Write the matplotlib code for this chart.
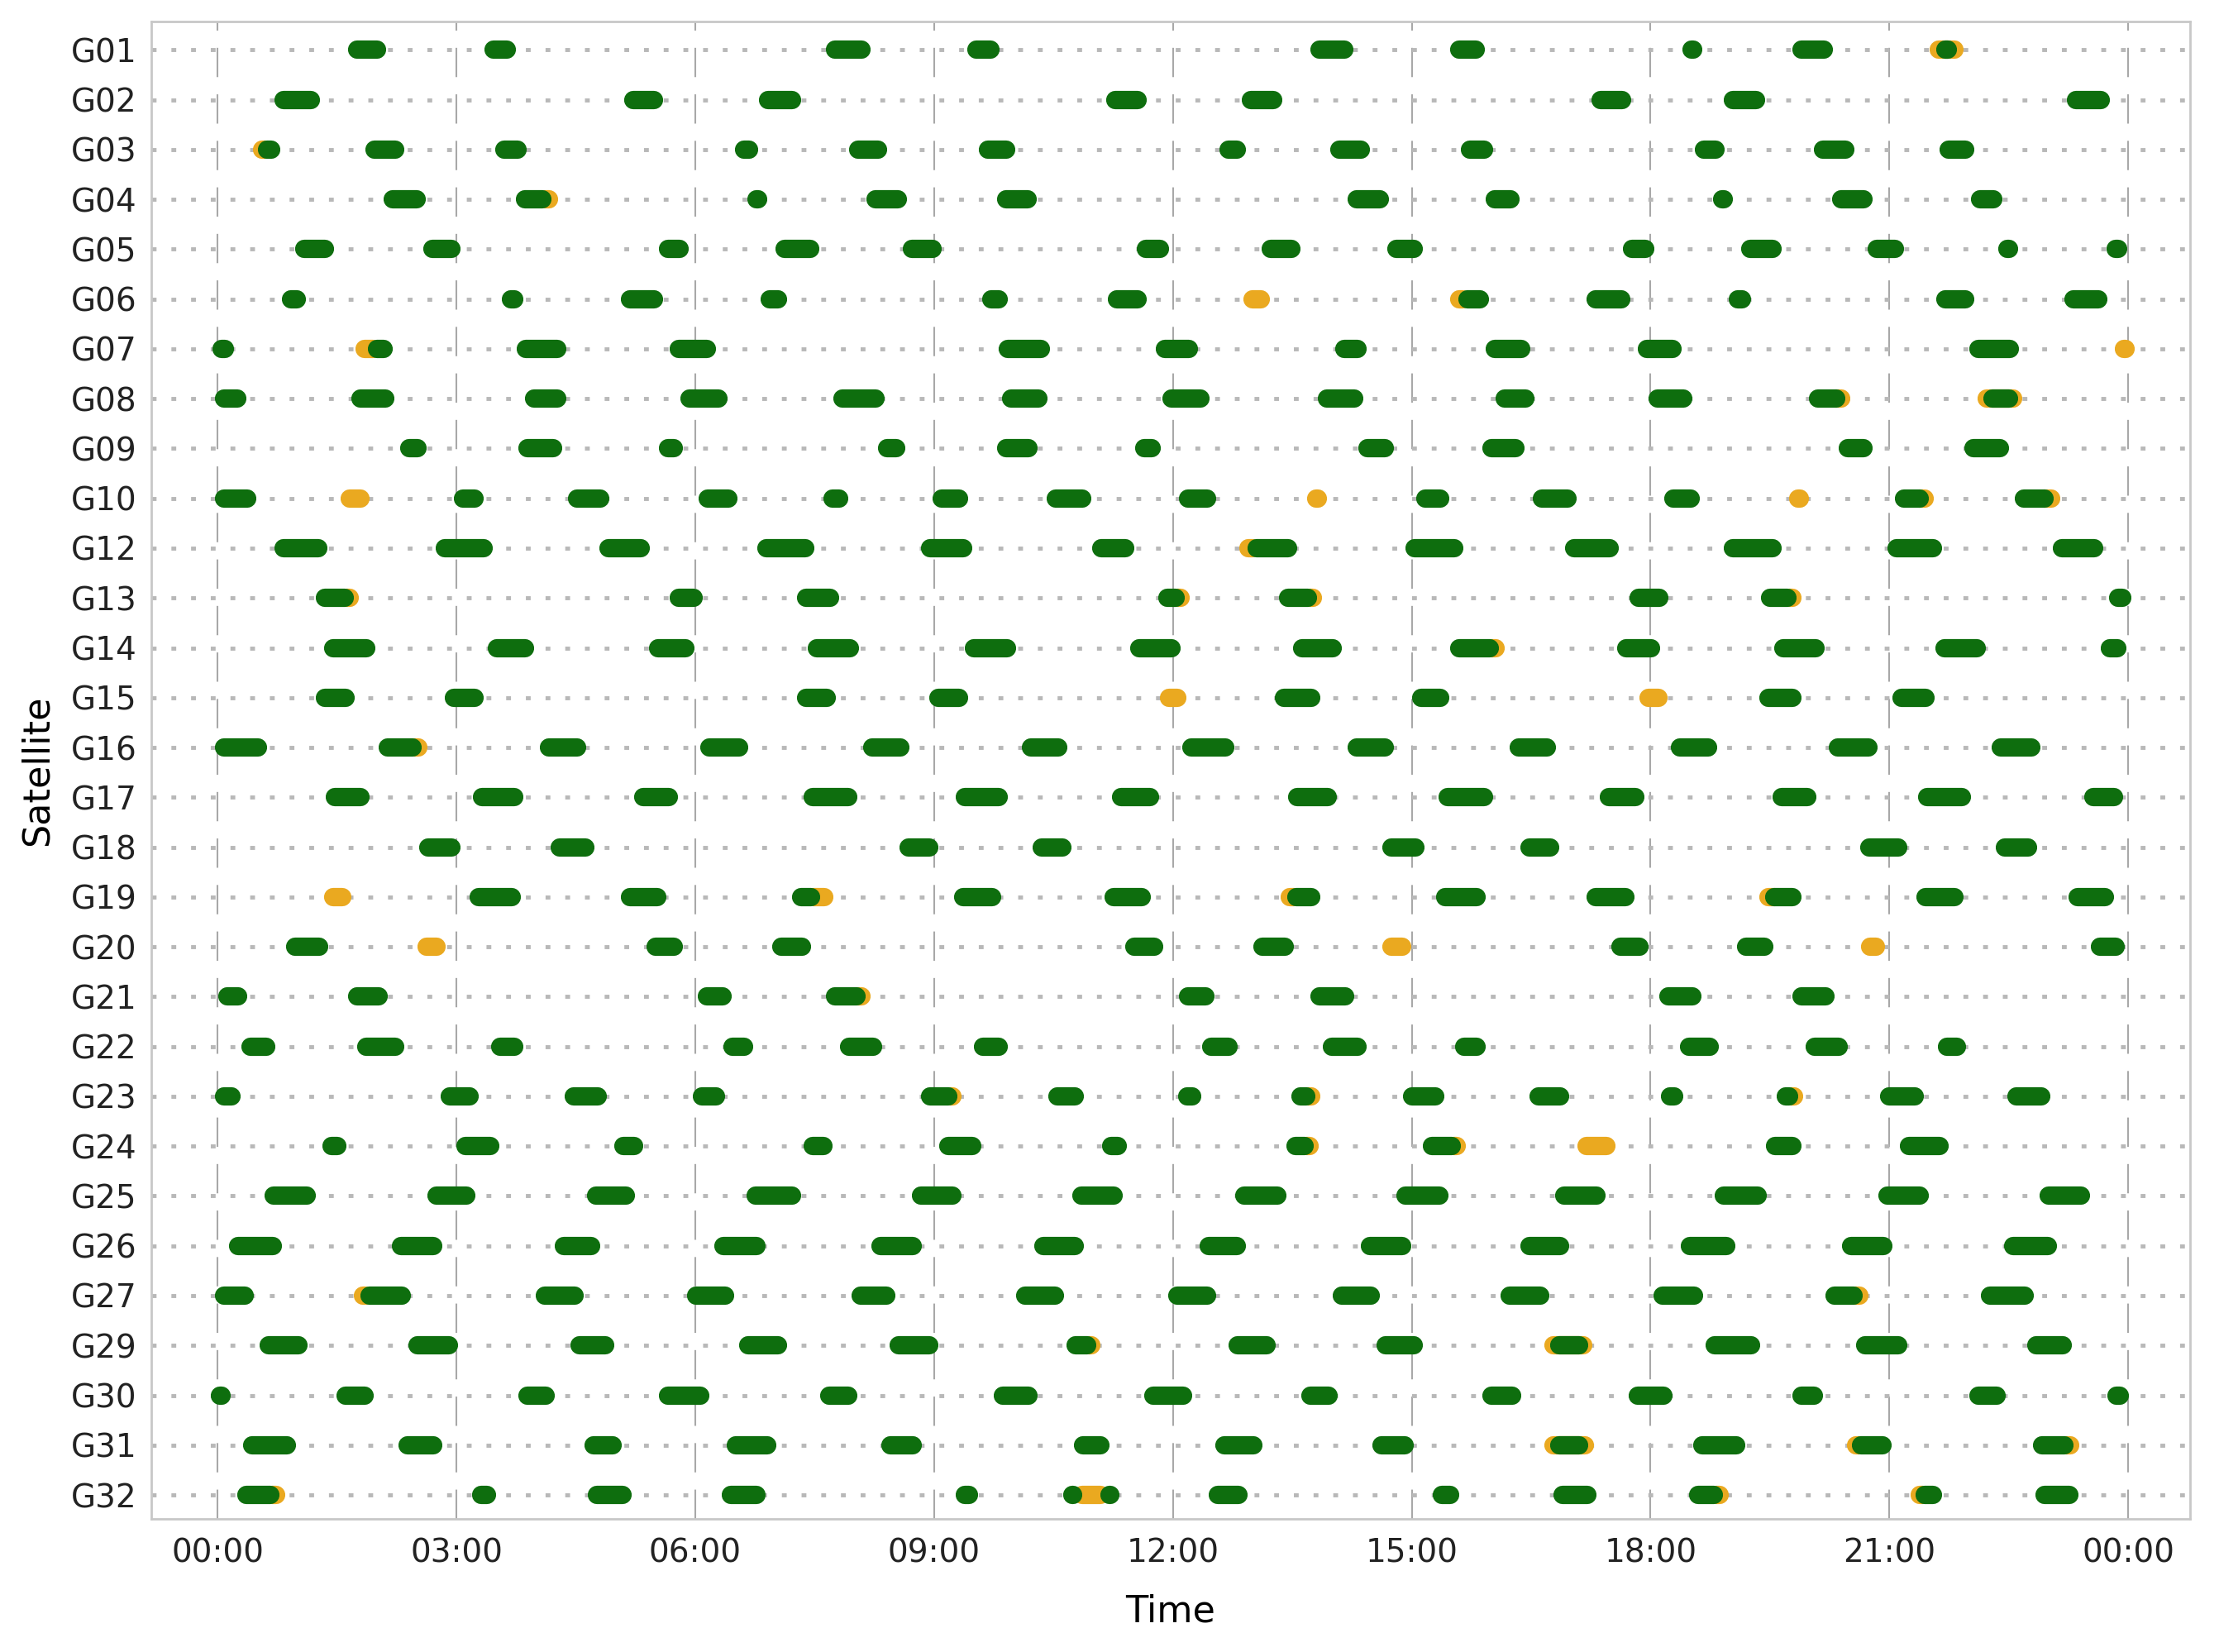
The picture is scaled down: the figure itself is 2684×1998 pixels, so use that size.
import matplotlib
matplotlib.use("Agg")
import matplotlib.pyplot as plt

# satellites, top to bottom
sats = ["G01", "G02", "G03", "G04", "G05", "G06", "G07", "G08", "G09", "G10",
        "G12", "G13", "G14", "G15", "G16", "G17", "G18", "G19", "G20", "G21",
        "G22", "G23", "G24", "G25", "G26", "G27", "G29", "G30", "G31", "G32"]

# visible passes in hours (start, end), same order as sats
green = [
    [(1.75, 2.0), (3.47, 3.63), (7.76, 8.09), (9.53, 9.71), (13.84, 14.15), (15.6, 15.8), (18.52, 18.54), (19.9, 20.18), (21.7, 21.74)],
    [(0.83, 1.17), (5.22, 5.48), (6.91, 7.21), (11.28, 11.56), (12.98, 13.26), (17.37, 17.64), (19.04, 19.33), (23.35, 23.66)],
    [(0.62, 0.67), (1.97, 2.23), (3.6, 3.77), (6.61, 6.67), (8.05, 8.3), (9.68, 9.9), (12.7, 12.8), (14.09, 14.36), (15.73, 15.91), (18.67, 18.82), (20.17, 20.45), (21.75, 21.95)],
    [(2.2, 2.5), (3.86, 4.08), (6.77, 6.79), (8.26, 8.54), (9.91, 10.17), (14.31, 14.6), (16.04, 16.24), (18.9, 18.92), (20.4, 20.68), (22.14, 22.31)],
    [(1.09, 1.35), (2.7, 2.94), (5.66, 5.8), (7.12, 7.44), (8.72, 8.98), (11.66, 11.84), (13.23, 13.49), (14.81, 15.03), (17.77, 17.93), (19.25, 19.53), (20.84, 21.07), (22.48, 22.5), (23.84, 23.88)],
    [(0.92, 0.99), (3.68, 3.73), (5.18, 5.48), (6.93, 7.04), (9.72, 9.81), (11.3, 11.56), (15.7, 15.86), (17.31, 17.63), (19.1, 19.15), (21.7, 21.95), (23.31, 23.63)],
    [(0.05, 0.09), (2.0, 2.08), (3.87, 4.26), (5.79, 6.15), (9.93, 10.34), (11.9, 12.2), (14.15, 14.32), (16.04, 16.38), (17.95, 18.28), (22.12, 22.51)],
    [(0.08, 0.25), (1.79, 2.1), (3.97, 4.26), (5.93, 6.29), (7.85, 8.26), (9.97, 10.31), (11.98, 12.35), (13.94, 14.28), (16.17, 16.43), (18.09, 18.41), (20.1, 20.33), (22.3, 22.5)],
    [(2.41, 2.51), (3.89, 4.21), (5.66, 5.73), (8.41, 8.52), (9.91, 10.19), (11.64, 11.73), (14.44, 14.66), (16.0, 16.3), (20.48, 20.68), (22.06, 22.39)],
    [(0.08, 0.37), (3.08, 3.23), (4.51, 4.81), (6.16, 6.42), (7.72, 7.81), (9.1, 9.31), (10.53, 10.86), (12.19, 12.43), (15.17, 15.36), (16.64, 16.96), (18.29, 18.51), (21.19, 21.38), (22.69, 22.95)],
    [(0.83, 1.26), (2.85, 3.34), (4.91, 5.31), (6.89, 7.38), (8.95, 9.36), (11.1, 11.4), (13.05, 13.45), (15.04, 15.53), (17.04, 17.49), (19.04, 19.53), (21.09, 21.55), (23.17, 23.57)],
    [(1.35, 1.6), (5.79, 5.98), (7.39, 7.69), (11.93, 12.03), (13.45, 13.7), (17.85, 18.11), (19.5, 19.72), (23.88, 23.93)],
    [(1.45, 1.87), (3.51, 3.86), (5.53, 5.87), (7.53, 7.94), (9.5, 9.92), (11.58, 11.98), (13.62, 14.01), (15.6, 15.98), (17.69, 18.01), (19.67, 20.07), (21.69, 22.1), (23.77, 23.86)],
    [(1.35, 1.61), (2.97, 3.23), (7.39, 7.65), (9.05, 9.31), (13.4, 13.74), (15.12, 15.36), (19.48, 19.78), (21.15, 21.45)],
    [(0.08, 0.51), (2.14, 2.45), (4.16, 4.51), (6.18, 6.55), (8.22, 8.58), (10.22, 10.56), (12.23, 12.66), (14.31, 14.66), (16.34, 16.7), (18.37, 18.72), (20.35, 20.74), (22.4, 22.78)],
    [(1.47, 1.79), (3.32, 3.73), (5.35, 5.67), (7.47, 7.92), (9.39, 9.81), (11.35, 11.71), (13.56, 13.95), (15.45, 15.91), (17.48, 17.81), (19.65, 19.97), (21.48, 21.91), (23.56, 23.82)],
    [(2.64, 2.94), (4.3, 4.62), (8.68, 8.94), (10.35, 10.61), (14.75, 15.05), (16.48, 16.74), (20.75, 21.11), (22.45, 22.74)],
    [(3.28, 3.69), (5.18, 5.52), (7.33, 7.45), (9.36, 9.73), (11.26, 11.61), (13.55, 13.74), (15.42, 15.82), (17.31, 17.68), (19.55, 19.78), (21.45, 21.82), (23.37, 23.71)],
    [(0.97, 1.27), (5.5, 5.73), (7.08, 7.34), (11.51, 11.76), (13.12, 13.41), (17.62, 17.86), (19.2, 19.43), (23.65, 23.84)],
    [(0.12, 0.26), (1.75, 2.02), (6.14, 6.34), (7.75, 8.02), (12.19, 12.41), (13.84, 14.16), (18.23, 18.53), (19.9, 20.2)],
    [(0.41, 0.61), (1.87, 2.23), (3.55, 3.73), (6.47, 6.61), (7.93, 8.23), (9.61, 9.81), (12.48, 12.7), (14.0, 14.32), (15.66, 15.82), (18.48, 18.74), (20.06, 20.36), (21.73, 21.85)],
    [(0.08, 0.17), (2.91, 3.16), (4.47, 4.77), (6.08, 6.26), (8.95, 9.18), (10.55, 10.77), (12.18, 12.24), (13.6, 13.68), (15.0, 15.3), (16.59, 16.86), (18.25, 18.3), (19.7, 19.74), (21.0, 21.32), (22.6, 22.91)],
    [(1.43, 1.5), (3.11, 3.42), (5.1, 5.23), (7.47, 7.61), (9.18, 9.48), (11.22, 11.31), (13.54, 13.65), (15.25, 15.5), (19.56, 19.78), (21.25, 21.63)],
    [(0.7, 1.12), (2.75, 3.12), (4.75, 5.13), (6.76, 7.21), (8.83, 9.23), (10.85, 11.26), (12.9, 13.31), (14.92, 15.35), (16.92, 17.32), (18.92, 19.35), (20.98, 21.38), (23.0, 23.41)],
    [(0.26, 0.69), (2.3, 2.71), (4.35, 4.69), (6.35, 6.77), (8.33, 8.73), (10.37, 10.77), (12.45, 12.8), (14.48, 14.88), (16.48, 16.86), (18.5, 18.95), (20.52, 20.93), (22.56, 22.99)],
    [(0.08, 0.34), (1.91, 2.31), (4.11, 4.48), (6.01, 6.37), (8.08, 8.4), (10.14, 10.52), (12.06, 12.43), (14.12, 14.49), (16.23, 16.61), (18.15, 18.55), (20.31, 20.55), (22.27, 22.7)],
    [(0.64, 1.01), (2.51, 2.9), (4.55, 4.87), (6.66, 7.04), (8.55, 8.94), (10.78, 10.92), (12.81, 13.18), (14.67, 15.03), (16.85, 17.1), (18.81, 19.26), (20.7, 21.11), (22.85, 23.18)],
    [(0.03, 0.05), (1.61, 1.84), (3.89, 4.12), (5.66, 6.06), (7.68, 7.92), (9.86, 10.19), (11.75, 12.13), (13.73, 13.96), (16.0, 16.26), (17.84, 18.16), (19.9, 20.05), (22.12, 22.35), (23.85, 23.9)],
    [(0.43, 0.87), (2.39, 2.71), (4.72, 4.96), (6.51, 6.9), (8.45, 8.73), (10.87, 11.09), (12.65, 13.01), (14.62, 14.91), (16.85, 17.1), (18.65, 19.08), (20.65, 20.91), (22.92, 23.2)],
    [(0.36, 0.66), (3.31, 3.38), (4.76, 5.09), (6.45, 6.77), (9.39, 9.44), (10.74, 10.75), (11.2, 11.21), (12.56, 12.82), (15.38, 15.48), (16.9, 17.21), (18.6, 18.8), (21.44, 21.55), (22.95, 23.26)],
]

orange = [
    [(21.62, 21.82)],
    [],
    [(0.56, 0.6)],
    [(4.12, 4.16)],
    [],
    [(13.0, 13.1), (15.6, 15.64)],
    [(1.85, 1.95), (23.95, 23.97)],
    [(20.33, 20.4), (22.22, 22.56)],
    [],
    [(1.66, 1.79), (13.8, 13.82), (19.86, 19.88), (21.38, 21.44), (22.95, 23.03)],
    [(12.95, 13.0)],
    [(1.62, 1.66), (12.05, 12.1), (13.72, 13.76), (19.74, 19.78)],
    [(16.0, 16.05)],
    [(11.95, 12.05), (17.98, 18.1)],
    [(2.47, 2.52)],
    [],
    [],
    [(1.45, 1.56), (7.48, 7.62), (13.47, 13.52), (19.48, 19.55)],
    [(2.62, 2.75), (14.75, 14.88), (20.76, 20.83)],
    [(8.04, 8.09)],
    [],
    [(9.2, 9.23), (13.7, 13.74), (19.76, 19.8)],
    [(13.68, 13.72), (15.52, 15.57), (17.2, 17.45)],
    [],
    [],
    [(1.82, 1.86), (20.57, 20.62)],
    [(10.94, 10.98), (16.78, 17.15)],
    [],
    [(16.78, 17.18), (20.58, 20.62), (23.22, 23.27)],
    [(0.68, 0.73), (10.86, 11.09), (18.83, 18.87), (21.38, 21.42)],
]

hours = [0, 3, 6, 9, 12, 15, 18, 21, 24]
hour_labels = ["00:00", "03:00", "06:00", "09:00", "12:00", "15:00", "18:00", "21:00", "00:00"]

fig = plt.figure(figsize=(26.84, 19.98), dpi=100)
ax = fig.add_axes([0.068, 0.0806, 0.919, 0.9064])


def draw(passes, color, z):
    ys, x0, x1 = [], [], []
    for i, row in enumerate(passes):
        for s, e in row:
            ys.append(i)
            x0.append(s)
            x1.append(e)
    ax.hlines(ys, x0, x1, colors=color, linewidth=16, capstyle="round", zorder=z)


draw(orange, "#eaa920", 3)
draw(green, "#0e6e0e", 4)

ax.set_xlim(-0.84, 24.78)
ax.set_ylim(len(sats) - 0.52, -0.57)
ax.set_yticks(range(len(sats)))
ax.set_yticklabels(sats)
ax.set_xticks(hours)
ax.set_xticklabels(hour_labels)
ax.tick_params(axis="both", labelsize=28, length=0, colors="#222222")
ax.tick_params(axis="y", pad=12)
ax.tick_params(axis="x", pad=16)

ax.yaxis.grid(True, color="#b8b8b8", linestyle=(0, (1.2, 3.7)), linewidth=3.5)
ax.xaxis.grid(True, color="#a8a8a8", linestyle=(0, (17, 10)), linewidth=1.5)
ax.set_axisbelow(True)

for sp in ax.spines.values():
    sp.set_color("#c8c8c8")
    sp.set_linewidth(2)

ax.set_xlabel("Time", fontsize=32, labelpad=22)
ax.set_ylabel("Satellite", fontsize=32, labelpad=14)

fig.savefig("out.png", dpi=100)
